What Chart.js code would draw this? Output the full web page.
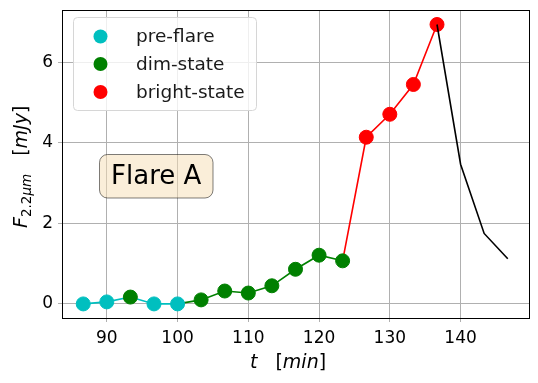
<!DOCTYPE html>
<html lang="en">
<head>
<meta charset="UTF-8">
<title>Flare A</title>
<script src="https://cdn.jsdelivr.net/npm/chart.js"></script>
<style>
  html, body { margin: 0; padding: 0; background: #fff; }
  #wrap { width: 538px; height: 383px; }
</style>
</head>
<body>
<div id="wrap"><canvas id="flareChart" width="538" height="383"></canvas></div>
<script>
// time (min) and flux (mJy)
const preT = [86.67, 90, 96.67, 100];
const preF = [0.0, 0.05, 0.0, 0.0];
const dimT = [93.33, 103.33, 106.67, 110, 113.33, 116.67, 120, 123.33];
const dimF = [0.17, 0.1, 0.32, 0.27, 0.45, 0.86, 1.21, 1.07];
const brightT = [126.67, 130, 133.33, 136.67];
const brightF = [4.14, 4.71, 5.45, 6.94];
const tailT = [140, 143.33, 146.67];
const tailF = [3.47, 1.75, 1.12];

// the connecting lines per phase
const preLineT = [86.67, 90, 93.33, 96.67, 100];
const preLineF = [0.0, 0.05, 0.17, 0.0, 0.0];
const dimLineT = [100, 103.33, 106.67, 110, 113.33, 116.67, 120, 123.33];
const dimLineF = [0.0, 0.1, 0.32, 0.27, 0.45, 0.86, 1.21, 1.07];
const brightLineT = [123.33, 126.67, 130, 133.33, 136.67];
const brightLineF = [1.07, 4.14, 4.71, 5.45, 6.94];
const tailLineT = [136.67, 140, 143.33, 146.67];
const tailLineF = [6.94, 3.47, 1.75, 1.12];

const xTicks = [90, 100, 110, 120, 130, 140];
const yTicks = [0, 2, 4, 6];
const legendLabels = ['pre-flare', 'dim-state', 'bright-state'];

const CYAN = '#00bfbf', GREEN = '#008000', RED = '#ff0000';

function pts(xs, ys) { return xs.map((x, i) => ({ x: x, y: ys[i] })); }

function lineSet(xs, ys, color, order) {
    return { data: pts(xs, ys), borderColor: color, borderWidth: 1.6, pointRadius: 0,
             showLine: true, fill: false, order: order };
}
function dotSet(label, xs, ys, color) {
    return { label: label, data: pts(xs, ys), backgroundColor: color, borderColor: color,
             pointRadius: 7, pointHoverRadius: 7, showLine: false, order: 1 };
}

const FONT = "'DejaVu Sans', sans-serif";

const extras = {
    id: 'extras',
    beforeDatasetsDraw(chart) {
        const { ctx } = chart;
        // flare label box
        ctx.save();
        const bx = 99.5, by = 154.5, bw = 113.5, bh = 43.5;
        ctx.beginPath();
        ctx.roundRect(bx, by, bw, bh, 8);
        ctx.fillStyle = 'rgba(245,222,179,0.5)';
        ctx.fill();
        ctx.strokeStyle = 'rgba(0,0,0,0.5)';
        ctx.lineWidth = 1;
        ctx.stroke();
        ctx.fillStyle = '#000';
        ctx.font = '26px ' + FONT;
        ctx.textAlign = 'center';
        ctx.textBaseline = 'middle';
        ctx.fillText('Flare A', bx + bw / 2, by + bh / 2 + 1);
        ctx.restore();
    },
    afterDraw(chart) {
        const { ctx, chartArea: a } = chart;
        ctx.save();
        // frame
        ctx.strokeStyle = '#000';
        ctx.lineWidth = 1;
        ctx.strokeRect(Math.round(a.left) + 0.5, Math.round(a.top) + 0.5,
                       Math.round(a.right - a.left), Math.round(a.bottom - a.top));

        // legend
        ctx.beginPath();
        ctx.roundRect(73.5, 17.5, 183, 93, 4);
        ctx.fillStyle = 'rgba(255,255,255,0.8)';
        ctx.fill();
        ctx.strokeStyle = '#d6d6d6';
        ctx.stroke();
        const colors = [CYAN, GREEN, RED];
        const rows = [36.5, 64, 92];
        ctx.font = '18.5px ' + FONT;
        ctx.textBaseline = 'middle';
        ctx.textAlign = 'left';
        legendLabels.forEach((lab, i) => {
            ctx.beginPath();
            ctx.arc(100.5, rows[i], 7, 0, Math.PI * 2);
            ctx.fillStyle = colors[i];
            ctx.fill();
            ctx.fillStyle = '#1a1a1a';
            ctx.fillText(lab, 136, rows[i] + 1);
        });

        // x title: t   [min]
        ctx.fillStyle = '#000';
        ctx.textBaseline = 'alphabetic';
        let x = 250, y = 368;
        ctx.font = 'italic 19px ' + FONT;
        ctx.fillText('t', x, y); x += ctx.measureText('t').width + 18;
        ctx.font = '19px ' + FONT;
        ctx.fillText('[', x, y); x += ctx.measureText('[').width;
        ctx.font = 'italic 19px ' + FONT;
        ctx.fillText('min', x, y); x += ctx.measureText('min').width;
        ctx.font = '19px ' + FONT;
        ctx.fillText(']', x, y);

        // y title: F_{2.2um}   [mJy]
        ctx.translate(27, 228);
        ctx.rotate(-Math.PI / 2);
        x = 0; y = 0;
        ctx.font = 'italic 19px ' + FONT;
        ctx.fillText('F', x, y); x += ctx.measureText('F').width;
        ctx.font = '13.5px ' + FONT;
        ctx.fillText('2.2', x, y + 4); x += ctx.measureText('2.2').width;
        ctx.font = 'italic 13.5px ' + FONT;
        ctx.fillText('\u03bcm', x, y + 4); x += ctx.measureText('\u03bcm').width + 18;
        ctx.font = '19px ' + FONT;
        ctx.fillText('[', x, y); x += ctx.measureText('[').width;
        ctx.font = 'italic 19px ' + FONT;
        ctx.fillText('mJy', x, y); x += ctx.measureText('mJy').width;
        ctx.font = '19px ' + FONT;
        ctx.fillText(']', x, y);
        ctx.restore();
    }
};

new Chart(document.getElementById('flareChart').getContext('2d'), {
    type: 'scatter',
    data: {
        datasets: [
            lineSet(preLineT, preLineF, CYAN, 3),
            lineSet(dimLineT, dimLineF, GREEN, 3),
            lineSet(brightLineT, brightLineF, RED, 3),
            dotSet(legendLabels[0], preT, preF, CYAN),
            dotSet(legendLabels[1], dimT, dimF, GREEN),
            dotSet(legendLabels[2], brightT, brightF, RED),
            lineSet(tailLineT, tailLineF, '#000', 0)
        ]
    },
    options: {
        responsive: false,
        animation: false,
        layout: { padding: { left: 0, right: 9, top: 10, bottom: 0 } },
        plugins: { legend: { display: false }, tooltip: { enabled: false } },
        scales: {
            x: {
                type: 'linear', min: 83.67, max: 149.67,
                afterBuildTicks: ax => { ax.ticks = xTicks.map(v => ({ value: v })); },
                afterFit: ax => { ax.height = 65; ax.paddingLeft = 0; ax.paddingRight = 0; },
                grid: { color: '#b0b0b0', lineWidth: 1, tickLength: 4 },
                border: { display: false },
                ticks: { color: '#000', font: { family: 'DejaVu Sans', size: 17 }, padding: 6, maxRotation: 0 }
            },
            y: {
                type: 'linear', min: -0.35, max: 7.3,
                afterBuildTicks: ax => { ax.ticks = yTicks.map(v => ({ value: v })); },
                afterFit: ax => { ax.width = 62; ax.paddingTop = 0; ax.paddingBottom = 0; },
                grid: { color: '#b0b0b0', lineWidth: 1, tickLength: 4 },
                border: { display: false },
                ticks: { color: '#000', font: { family: 'DejaVu Sans', size: 17 }, padding: 5 }
            }
        }
    },
    plugins: [extras]
});
</script>
</body>
</html>
